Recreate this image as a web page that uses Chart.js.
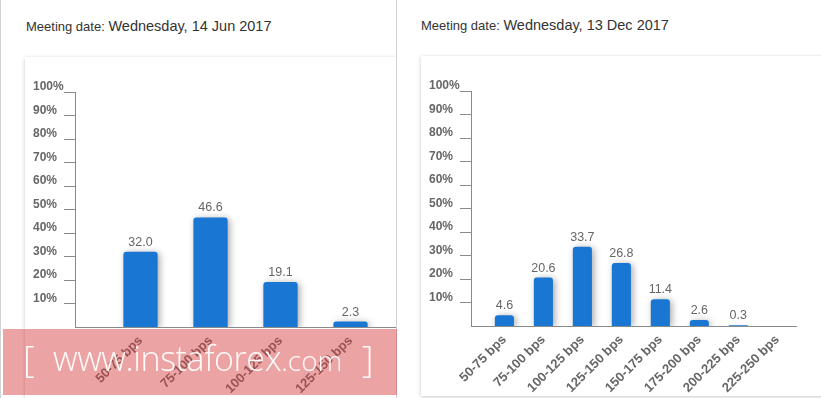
<!DOCTYPE html>
<html><head><meta charset="utf-8">
<script src="https://cdn.jsdelivr.net/npm/chart.js@4/dist/chart.umd.min.js"></script>
<style>
html,body{margin:0;padding:0;background:#fff;width:821px;height:398px;overflow:hidden;position:relative;font-family:"Liberation Sans",Arial,sans-serif;}
.abs{position:absolute;}
.vline{position:absolute;top:0;width:1px;height:398px;background:#d2d2d2;}
.head{position:absolute;white-space:nowrap;color:#333;line-height:20px;}
.head .a{font-size:13px;}
.head .b{font-size:14.5px;}
.card{position:absolute;background:#fff;box-shadow:0 1px 4px rgba(0,0,0,0.22);}
#wm{position:absolute;left:3px;top:329px;width:394px;height:66px;background:rgba(215,60,60,0.47);color:rgba(255,255,255,0.95);font-family:"Open Sans","Noto Sans",sans-serif;font-weight:300;}
#wm .br{position:absolute;white-space:nowrap;line-height:1;font-size:36px;}
#wm .line{position:absolute;left:50px;top:4px;white-space:nowrap;line-height:50px;}
</style></head>
<body>
<div class="abs" id="left" style="left:0;top:0;width:397px;height:398px;overflow:hidden;">
  <div class="head" style="left:26px;top:16px;"><span class="a">Meeting date: </span><span class="b">Wednesday, 14 Jun 2017</span></div>
  <div class="card" style="left:25px;top:57px;width:430px;height:345px;">
    <canvas id="c1" width="420" height="340" style="position:absolute;left:0;top:0;width:420px;height:340px;"></canvas>
  </div>
</div>
<div class="vline" style="left:0;"></div>
<div class="vline" style="left:396px;"></div>
<div class="head" style="left:421px;top:15px;"><span class="a">Meeting date: </span><span class="b">Wednesday, 13 Dec 2017</span></div>
<div class="card" style="left:421px;top:56px;width:420px;height:340px;">
  <canvas id="c2" width="400" height="340" style="position:absolute;left:0;top:0;width:400px;height:340px;"></canvas>
</div>
<div id="wm">
  <span class="br" style="left:20px;top:12px;">[</span>
  <div class="line"><span style="font-size:34px;letter-spacing:-0.4px;">www.instaforex</span><span style="font-size:28px;">.com</span></div>
  <span class="br" style="left:359px;top:12px;">]</span>
</div>
<script>
// ---- data ----
const junCategories = ['50-75 bps','75-100 bps','100-125 bps','125-150 bps'];
const junValues = [32.0, 46.6, 19.1, 2.3];
const decCategories = ['50-75 bps','75-100 bps','100-125 bps','125-150 bps','150-175 bps','175-200 bps','200-225 bps','225-250 bps'];
const decValues = [4.6, 20.6, 33.7, 26.8, 11.4, 2.6, 0.3, null];
const yTickValues = [10,20,30,40,50,60,70,80,90,100];

Chart.defaults.font.family = '"Liberation Sans", Arial, sans-serif';
const GRAY = '#666';
const AXIS = '#8a8a8a';

const barShadow = {
  id: 'barShadow',
  beforeDatasetsDraw(chart) {
    const ctx = chart.ctx;
    ctx.save();
    ctx.shadowColor = 'rgba(0,0,0,0.35)';
    ctx.shadowBlur = 7;
    ctx.shadowOffsetX = 2;
    ctx.shadowOffsetY = 1;
  },
  afterDatasetsDraw(chart) {
    const ctx = chart.ctx;
    ctx.restore();
    ctx.save();
    ctx.font = '12.5px "Liberation Sans", Arial, sans-serif';
    ctx.fillStyle = '#666';
    ctx.textAlign = 'center';
    ctx.textBaseline = 'alphabetic';
    const meta = chart.getDatasetMeta(0);
    const data = chart.data.datasets[0].data;
    meta.data.forEach((bar, i) => {
      const v = data[i].y;
      if (v === null || v === undefined) return;
      ctx.fillText(v.toFixed(1), bar.x, bar.y - 6);
    });
    ctx.restore();
  }
};

function makeChart(id, cats, vals, xMin, xMax, padRight) {
  return new Chart(document.getElementById(id), {
    type: 'bar',
    data: {
      datasets: [{
        data: vals.map((v, i) => ({x: i, y: v})),
        backgroundColor: '#1976d2',
        borderRadius: {topLeft: 3, topRight: 3, bottomLeft: 0, bottomRight: 0},
        borderSkipped: 'start',
        barPercentage: 0.49,
        categoryPercentage: 1
      }]
    },
    options: {
      responsive: false,
      animation: false,
      events: [],
      layout: {padding: {left: 8, right: padRight, top: 35, bottom: 0}},
      plugins: {legend: {display: false}, tooltip: {enabled: false}},
      scales: {
        x: {
          type: 'linear',
          bounds: 'data',
          offset: false,
          min: xMin, max: xMax,
          grid: {display: true, offset: false, drawOnChartArea: false, drawTicks: false, color: AXIS},
          border: {display: true, color: AXIS, width: 1},
          ticks: {
            stepSize: 1, autoSkip: false, includeBounds: false,
            maxRotation: 45, minRotation: 45, padding: 6,
            color: GRAY, font: {size: 13, weight: 'bold'},
            callback: v => (cats[v] !== undefined ? cats[v] : '')
          },
          afterBuildTicks: s => { s.ticks = cats.map((c, i) => ({value: i})); },
          afterFit: s => { s.height = 70; }
        },
        y: {
          min: 0, max: 100,
          bounds: 'data',
          grid: {display: true, drawOnChartArea: false, drawTicks: true, tickLength: 11, color: AXIS},
          border: {display: true, color: AXIS, width: 1},
          ticks: {
            stepSize: 10, padding: 0, crossAlign: 'far', labelOffset: -5,
            color: GRAY, font: {size: 12, weight: 'bold'},
            callback: v => v + '%'
          },
          afterBuildTicks: s => { s.ticks = yTickValues.map(v => ({value: v})); },
          afterFit: s => { s.width = 42; }
        }
      }
    },
    plugins: [barShadow]
  });
}

makeChart('c1', junCategories, junValues, -0.936, 4.35, 0);
makeChart('c2', decCategories, decValues, -0.857, 7.48, 25);
</script>
</body></html>
